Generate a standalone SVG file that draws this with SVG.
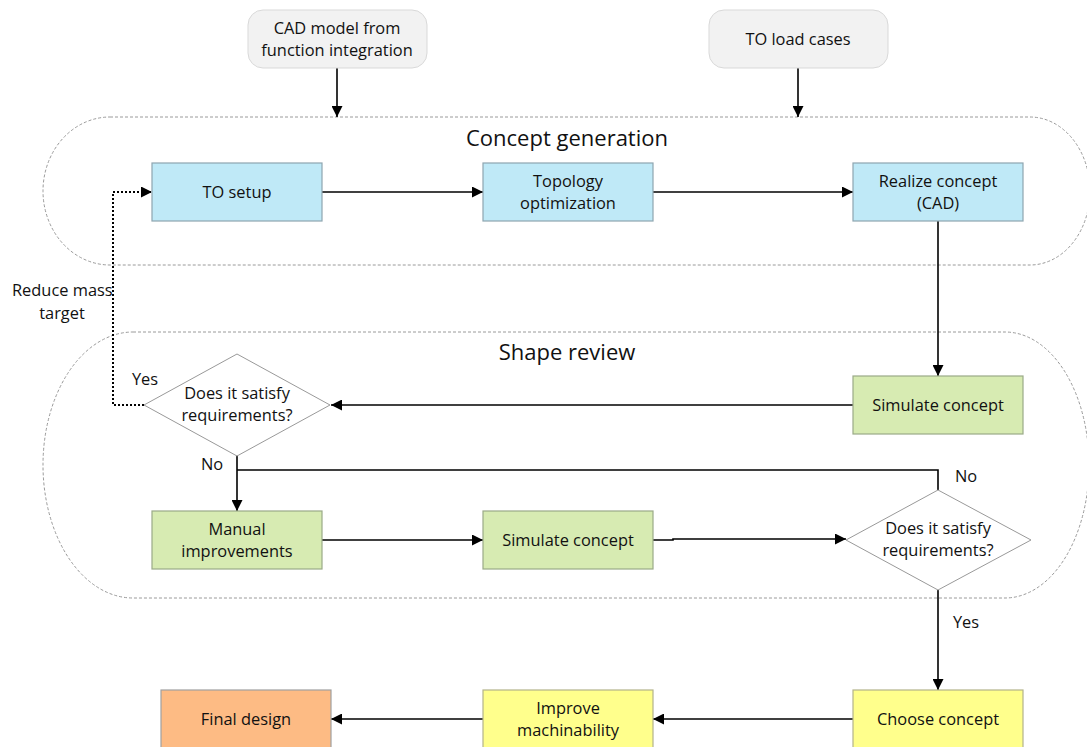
<svg xmlns="http://www.w3.org/2000/svg" width="1087" height="747" viewBox="0 0 1087 747">
<defs>
<marker id="ah" viewBox="0 0 10 10" refX="10" refY="5" markerWidth="11" markerHeight="11" markerUnits="userSpaceOnUse" orient="auto">
<path d="M0,0 L10,5 L0,10 Z" fill="#000"/>
</marker>
<style>
text{font-family:"Open Sans","Liberation Sans",sans-serif;font-size:16.4px;fill:#111;text-anchor:middle}
.title{font-size:22px}
.lbl{text-anchor:start}
.group{fill:none;stroke:#9a9a9a;stroke-width:1;stroke-dasharray:3,2}
.inp{fill:#f2f2f2;stroke:#d9d9d9;stroke-width:1}
.blue{fill:#bfe9f7;stroke:#8ea5b0;stroke-width:1.2}
.green{fill:#d7ebb2;stroke:#9aaa88;stroke-width:1.2}
.yellow{fill:#ffff8c;stroke:#b3b38a;stroke-width:1.2}
.orange{fill:#fdbb84;stroke:#a0a0a0;stroke-width:1.2}
.dia{fill:#fff;stroke:#999;stroke-width:1}
.c{fill:none;stroke:#000;stroke-width:1.6}
.dot{fill:none;stroke:#000;stroke-width:2;stroke-dasharray:2,2}
</style>
</defs>
<rect width="1087" height="747" fill="#fff"/>
<g id="concept-generation">
<path class="group" d="M110,117 L1030,117 A60,74 0 0 1 1030,265 L110,265 A67,74 0 0 1 110,117 Z"/>
<text class="title" x="567" y="146">Concept generation</text>
</g>
<g id="shape-review">
<path class="group" d="M133,332 L1005,332 A84,133 0 0 1 1005,598 L133,598 A90,133 0 0 1 133,332 Z"/>
<text class="title" x="567" y="360">Shape review</text>
</g>
<g id="connectors">
<path class="c" d="M337,68 V117" marker-end="url(#ah)"/>
<path class="c" d="M798,68 V117" marker-end="url(#ah)"/>
<path class="c" d="M322,192 H483" marker-end="url(#ah)"/>
<path class="c" d="M653,192 H853" marker-end="url(#ah)"/>
<path class="c" d="M938,221 V376" marker-end="url(#ah)"/>
<path class="c" d="M853,405 H331" marker-end="url(#ah)"/>
<path class="dot" d="M144,405 H113 V192 H152" marker-end="url(#ah)"/>
<path class="c" d="M237,455 V511" marker-end="url(#ah)"/>
<path class="c" d="M237,470 H938 V490"/>
<path class="c" d="M322,540 H483" marker-end="url(#ah)"/>
<path class="c" d="M653,540 H673 V539 H846" marker-end="url(#ah)"/>
<path class="c" d="M938,590 V690" marker-end="url(#ah)"/>
<path class="c" d="M853,719 H653" marker-end="url(#ah)"/>
<path class="c" d="M483,719 H331" marker-end="url(#ah)"/>
<text class="lbl" x="12" y="296">Reduce mass</text>
<text x="62" y="319">target</text>
<text x="145" y="385">Yes</text>
<text x="212" y="470">No</text>
<text x="966" y="482">No</text>
<text x="966" y="628">Yes</text>
</g>
<g id="cad-model">
<rect class="inp" x="248" y="10" width="179" height="58" rx="15"/>
<text x="337" y="34">CAD model from</text>
<text x="337" y="56">function integration</text>
</g>
<g id="to-load-cases">
<rect class="inp" x="709" y="10" width="179" height="58" rx="15"/>
<text x="798" y="45">TO load cases</text>
</g>
<g id="to-setup">
<rect class="blue" x="152" y="163" width="170" height="58"/>
<text x="237" y="198">TO setup</text>
</g>
<g id="topology-optimization">
<rect class="blue" x="483" y="163" width="170" height="58"/>
<text x="568" y="187">Topology</text>
<text x="568" y="209">optimization</text>
</g>
<g id="realize-concept">
<rect class="blue" x="853" y="163" width="170" height="58"/>
<text x="938" y="187">Realize concept</text>
<text x="938" y="209">(CAD)</text>
</g>
<g id="simulate-concept-1">
<rect class="green" x="853" y="376" width="170" height="58"/>
<text x="938" y="411">Simulate concept</text>
</g>
<g id="decision-1">
<path class="dia" d="M237,354 L330,405 L237,456 L144,405 Z"/>
<text x="237" y="399">Does it satisfy</text>
<text x="237" y="421">requirements?</text>
</g>
<g id="manual-improvements">
<rect class="green" x="152" y="511" width="170" height="58"/>
<text x="237" y="535">Manual</text>
<text x="237" y="557">improvements</text>
</g>
<g id="simulate-concept-2">
<rect class="green" x="483" y="511" width="170" height="58"/>
<text x="568" y="546">Simulate concept</text>
</g>
<g id="decision-2">
<path class="dia" d="M938,490 L1031,540 L938,590 L846,540 Z"/>
<text x="938" y="534">Does it satisfy</text>
<text x="938" y="556">requirements?</text>
</g>
<g id="choose-concept">
<rect class="yellow" x="853" y="690" width="170" height="60"/>
<text x="938" y="725">Choose concept</text>
</g>
<g id="improve-machinability">
<rect class="yellow" x="483" y="690" width="170" height="60"/>
<text x="568" y="714">Improve</text>
<text x="568" y="736">machinability</text>
</g>
<g id="final-design">
<rect class="orange" x="161" y="690" width="170" height="60"/>
<text x="246" y="725">Final design</text>
</g>
</svg>
